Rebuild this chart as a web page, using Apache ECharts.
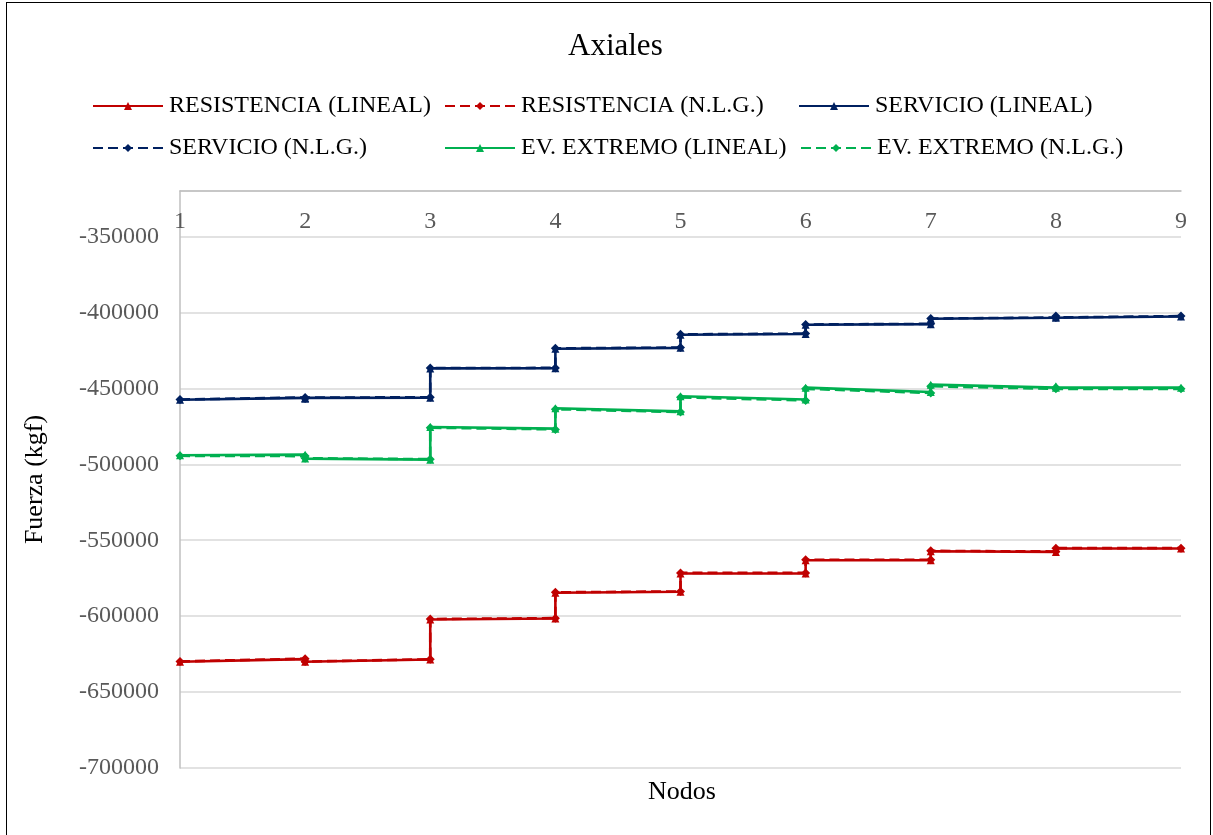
<!DOCTYPE html>
<html>
<head>
<meta charset="utf-8">
<title>Axiales</title>
<script src="https://cdn.jsdelivr.net/npm/echarts@6/dist/echarts.min.js"></script>
<style>
  html, body { margin: 0; padding: 0; background: #fff; }
  #chart { position: absolute; left: 0; top: 0; width: 1213px; height: 835px; }
  #frame { position: absolute; left: 6px; top: 2px; width: 1203px; height: 845px; border: 1px solid #000; pointer-events: none; }
</style>
</head>
<body>
<div id="chart"></div>
<div id="frame"></div>
<script>
// Nodes along the member and axial force (kgf) at the start / end of each element
const nodes = [1, 2, 3, 4, 5, 6, 7, 8, 9];

const resLinealStart = [-630060, -630060, -602170, -584630, -571870, -563160, -557240, -555440];
const resLinealEnd   = [-628290, -628510, -601550, -583970, -571870, -563160, -557680, -555440];
const resNlgStart    = [-629800, -629900, -601900, -584300, -571500, -562900, -557000, -555200];
const resNlgEnd      = [-628000, -628400, -601300, -583700, -571500, -562900, -557400, -555200];

const servLinealStart = [-457430, -456900, -436840, -423880, -414660, -408090, -404140, -402630];
const servLinealEnd   = [-456250, -456100, -436770, -423300, -414130, -407700, -403480, -402630];
const servNlgStart    = [-457300, -456700, -436600, -423600, -414400, -407900, -404000, -402400];
const servNlgEnd      = [-456000, -455900, -436500, -423100, -413900, -407500, -403300, -402400];

const extLinealStart = [-494070, -496250, -475460, -463100, -455130, -449500, -447550, -448600];
const extLinealEnd   = [-493620, -496920, -476500, -465130, -457300, -452400, -449500, -449500];
const extNlgStart    = [-494400, -496000, -475900, -463700, -455900, -450300, -448600, -449400];
const extNlgEnd      = [-494600, -496600, -477000, -465600, -457900, -453000, -450300, -450300];

const yTicks = { min: -700000, max: -320000, step: 50000 };

const FONT = "'Liberation Serif', 'Times New Roman', serif";
const RED = '#C00000', NAVY = '#002060', GREEN = '#00B050';

// Each element contributes two points: its start node and its end node
function stepPoints(start, end) {
  const pts = [];
  for (let i = 0; i < start.length; i++) {
    pts.push([nodes[i], start[i]]);
    pts.push([nodes[i + 1], end[i]]);
  }
  return pts;
}

function makeSeries(name, color, start, end, dashed) {
  return {
    name: name,
    type: 'line',
    data: stepPoints(start, end),
    symbol: dashed ? 'diamond' : 'triangle',
    symbolSize: dashed ? 9 : 8,
    showSymbol: true,
    lineStyle: { color: color, width: 2.6, type: dashed ? [10, 5] : 'solid' },
    itemStyle: { color: color },
    emphasis: { disabled: true },
    animation: false,
    z: dashed ? 3 : 2
  };
}

const series = [
  makeSeries('RESISTENCIA (LINEAL)', RED, resLinealStart, resLinealEnd, false),
  makeSeries('RESISTENCIA (N.L.G.)', RED, resNlgStart, resNlgEnd, true),
  makeSeries('SERVICIO (LINEAL)', NAVY, servLinealStart, servLinealEnd, false),
  makeSeries('SERVICIO (N.L.G.)', NAVY, servNlgStart, servNlgEnd, true),
  makeSeries('EV. EXTREMO (LINEAL)', GREEN, extLinealStart, extLinealEnd, false),
  makeSeries('EV. EXTREMO (N.L.G.)', GREEN, extNlgStart, extNlgEnd, true)
];

// Legend laid out in two rows of three aligned columns
const legendPos = [[87, 89], [439, 89], [793, 89], [87, 131], [439, 131], [795, 131]];
const legends = series.map((s, i) => ({
  data: [s.name],
  left: legendPos[i][0],
  top: legendPos[i][1],
  itemWidth: 70,
  itemHeight: 10,
  itemGap: 0,
  selectedMode: false,
  textStyle: { fontFamily: FONT, fontSize: 24, color: '#000', padding: [0, 0, 0, 1] }
}));

const chart = echarts.init(document.getElementById('chart'), null, { renderer: 'canvas' });
chart.setOption({
  backgroundColor: '#fff',
  animation: false,
  title: [
    { text: 'Axiales', left: 563, top: 26, textStyle: { fontFamily: FONT, fontSize: 31, fontWeight: 'normal', color: '#000' } },
    { text: 'Nodos', left: 643, top: 774, textStyle: { fontFamily: FONT, fontSize: 26, fontWeight: 'normal', color: '#000' } }
  ],
  legend: legends,
  grid: { left: 180, top: 191, width: 1001, height: 577, containLabel: false },
  xAxis: {
    type: 'value',
    position: 'top',
    min: nodes[0],
    max: nodes[nodes.length - 1],
    interval: 1,
    axisLine: { show: true, onZero: false, lineStyle: { color: '#BFBFBF', width: 1.5 } },
    axisTick: { show: false },
    splitLine: { show: false },
    axisLabel: { inside: true, margin: 19, fontFamily: FONT, fontSize: 24, color: '#595959' }
  },
  yAxis: {
    type: 'value',
    min: yTicks.min,
    max: yTicks.max,
    interval: yTicks.step,
    name: 'Fuerza (kgf)',
    nameLocation: 'middle',
    nameGap: 132,
    nameTextStyle: { fontFamily: FONT, fontSize: 26, color: '#000', padding: [0, 0, 0, 0] },
    axisLine: { show: true, lineStyle: { color: '#BFBFBF', width: 1.5 } },
    axisTick: { show: false },
    splitLine: { show: true, lineStyle: { color: '#D9D9D9', width: 1.5 } },
    axisLabel: {
      margin: 21,
      fontFamily: FONT,
      fontSize: 24,
      color: '#595959',
      showMaxLabel: false,
      formatter: v => String(v)
    }
  },
  series: series
});
</script>
</body>
</html>
